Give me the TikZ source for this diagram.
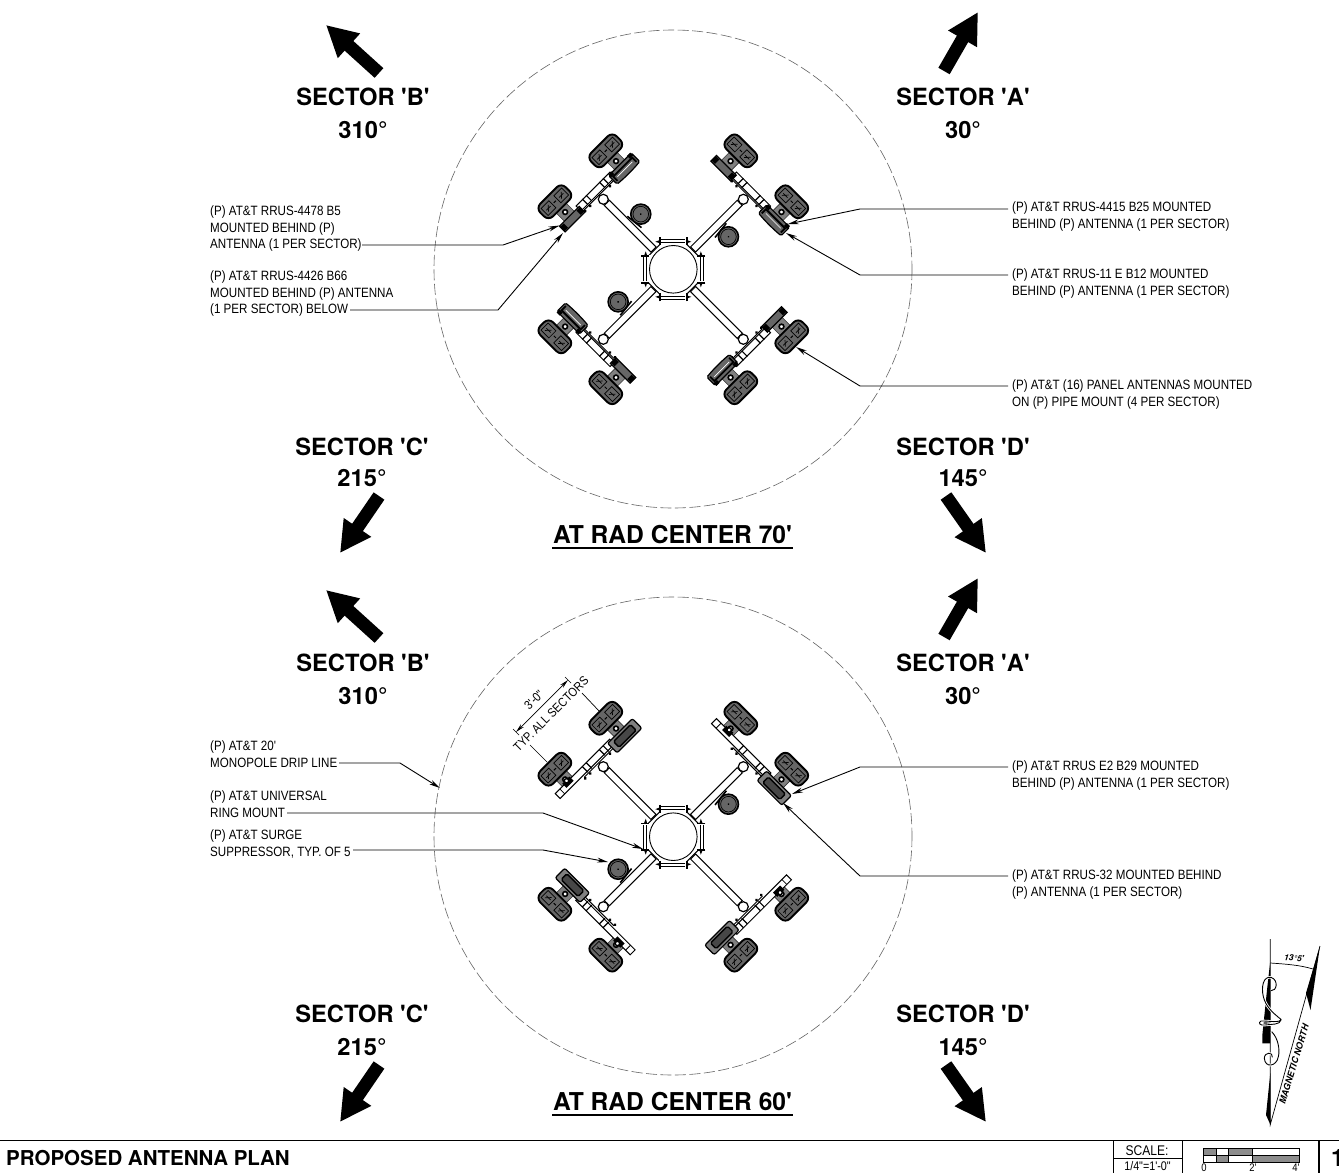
\documentclass[tikz,border=0pt]{standalone}
\usepackage{fontspec}
\newfontfamily\helv{TeX Gyre Heros}
\setmainfont{TeX Gyre Heros}
\newfontfamily\cadfont[FakeStretch=0.86]{Liberation Sans}
\usetikzlibrary{arrows.meta,calc}
\definecolor{antgray}{HTML}{666666}
\definecolor{brk}{HTML}{808080}
\tikzset{
 sect/.style={font=\helv\fontsize{23.7}{26}\selectfont\bfseries,inner sep=0pt,align=center},
 plantitle/.style={font=\helv\fontsize{24.6}{26}\selectfont\bfseries,inner sep=0pt},
 note/.style={font=\cadfont\fontsize{13.5}{16.5}\selectfont,inner sep=0pt,align=left,anchor=north west},
 rottext/.style={font=\cadfont\fontsize{12.6}{15}\selectfont,inner sep=0pt,rotate=45},
 leader/.style={line width=0.9pt,-{Stealth[length=11pt,width=5pt]}},
 bigarrow/.style={line width=13pt,-{Triangle[length=31pt,width=31pt]}},
 drip/.style={line width=0.6pt,draw=black!60,dash pattern=on 11pt off 3.5pt},
 antbody/.style={fill=antgray,draw=black,line width=1.9pt,rounded corners=6.5pt},
 antin/.style={draw=black,line width=0.7pt},
 brack/.style={fill=brk,draw=black!80,line width=0.6pt},
 pipe/.style={fill=white,draw=black,line width=1pt},
}
\newcommand{\antennaunit}[1]{%
 \begin{scope}[shift={(0,#1)}]
  \filldraw[brack] (110,-7) rectangle (124,7);
  \draw[antbody] (122.5,-18) rectangle (140.5,18);
  \draw[antin] (126.5,-14.5) rectangle (136.5,-3.5);
  \draw[antin] (126.5,3.5) rectangle (136.5,14.5);
  \draw[antin] (129,-11.5) -- (134,-7) (129,7) -- (134,11.5);
  \draw[antin] (131.5,-12) -- (131.5,-6) (131.5,6) -- (131.5,12);
  \draw[black,line width=1pt] (131.5,-1.5) -- (131.5,1.5);
  \filldraw[fill=white,draw=black,line width=1.6pt] (117,0) circle (2.4);
 \end{scope}}
\newcommand{\armcommon}{%
 \filldraw[pipe] (28,-3.6) rectangle (94,3.6);
}
\newcommand{\armjoint}{%
 \filldraw[pipe,line width=1.2pt] (99,0) circle (5);
 \draw[line width=1pt] (105,-21) -- (105,21);
 \foreach \b in {-21,-14,14,21}{\fill (103.5,\b) circle (1.6);}
 \foreach \b in {-12,12}{\draw[line width=1.2pt] (106,\b-2.7) -- (114,\b-2.7) (106,\b+2.7) -- (114,\b+2.7);}
}
\newcommand{\armA}[1]{%
 \begin{scope}[rotate=#1]
  \armcommon
  \filldraw[pipe] (106.5,-24) rectangle (113.5,24);
  \armjoint
  \antennaunit{36}\antennaunit{-36}
  \filldraw[fill=antgray,draw=black,line width=1.2pt,rounded corners=1.5pt] (100,20.5) .. controls (99,30) and (99,43) .. (100,52.5) -- (112,52.5) -- (112,20.5) -- cycle;
  \draw[black,line width=1.8pt] (102,23) -- (108,23) -- (108,50) -- (102,50);
  \draw[white,line width=.7pt] (105,26) -- (105,47);
  \fill (109,21) rectangle (113,25.5); \fill (109,47.5) rectangle (113,52);
  \filldraw[fill=antgray,draw=black,line width=1.2pt] (103,-50) rectangle (111,-22);
  \fill (104,-50) rectangle (110,-45); \fill (104,-27) rectangle (110,-22);
 \end{scope}}
\newcommand{\armB}[1]{%
 \begin{scope}[rotate=#1]
  \armcommon
  \antennaunit{36}\antennaunit{-36}
  \filldraw[pipe] (107,-53) rectangle (114,24);
  \draw[line width=.8pt] (107,-46.5) -- (114,-46.5);
  \fill (110,-41) rectangle (116,-31);
  \filldraw[fill=white,draw=black,line width=1.4pt] (115,-36) circle (2.2);
  \armjoint
  \filldraw[fill=brk,draw=black,line width=1.2pt,rounded corners=2pt] (99,19.5) rectangle (112.5,54.5);
  \filldraw[fill=antgray!70!black,draw=black,line width=1.4pt,rounded corners=1.5pt] (101.5,25) rectangle (109.5,49);
 \end{scope}}
\newcommand{\suppressor}[1]{%
 \begin{scope}[rotate=#1]
  \draw[line width=1.6pt] (52,7) -- (70,5);
  \filldraw[fill=antgray,draw=black,line width=1.6pt] (62,16) circle (10);
  \draw[black,line width=.7pt] (62,16) circle (7.8);
  \fill (62,16) circle (1);
 \end{scope}}
\newcommand{\hub}{%
 \foreach \r in {0,90,180,270}{
  \begin{scope}[rotate=\r]
   \filldraw[fill=white,draw=none] (-14,-30) rectangle (14,-22);
   \draw[line width=1.2pt] (-12,-30) -- (12,-30);
   \draw[line width=.8pt] (-12,-27) -- (12,-27);
   \draw[line width=1.8pt] (-13.3,-32) -- (-13.3,-24) (13.3,-32) -- (13.3,-24);
   \fill (-13,-29.5) -- (-18,-27.5) -- (-13,-26) -- cycle;
   \fill (13,-29.5) -- (18,-27.5) -- (13,-26) -- cycle;
   \draw[line width=1.1pt] (-13.3,-25) -- (-25,-13.3);
  \end{scope}}
 \filldraw[fill=white,draw=black,line width=.9pt] (0,0) circle (23.8);
}
\begin{document}
\begin{tikzpicture}[x=1pt,y=-1pt]
\useasboundingbox (0,0) rectangle (1339,1173);
\fill[white] (0,0) rectangle (1339,1173);
% ---------- upper plan
\draw[drip] (673,269) circle (239);
\begin{scope}[shift={(673.3,269.3)}]
 \armA{135}\armA{45}\armA{225}\armA{315}
 \suppressor{135}\suppressor{45}\suppressor{225}
 \hub
\end{scope}
% ---------- lower plan
\draw[drip] (673,836) circle (239);
\begin{scope}[shift={(673.3,836.7)}]
 \armB{135}\armB{45}\armB{225}\armB{315}
 \suppressor{45}\suppressor{225}
 \hub
\end{scope}
% ---------- sector labels
\node[sect] (sb1) at (363,113.5) {SECTOR 'B'\\[7.5pt]310°};
\node[sect] (sa1) at (963,113.5) {SECTOR 'A'\\[7.5pt]30°};
\node[sect] (sc1) at (362,462.5) {SECTOR 'C'\\[5.5pt]215°};
\node[sect] (sd1) at (963,462.5) {SECTOR 'D'\\[5.5pt]145°};
\node[sect] (sb2) at (363,679.5) {SECTOR 'B'\\[7.5pt]310°};
\node[sect] (sa2) at (963,679.5) {SECTOR 'A'\\[7.5pt]30°};
\node[sect] (sc2) at (362,1030.5) {SECTOR 'C'\\[7.5pt]215°};
\node[sect] (sd2) at (963,1030.5) {SECTOR 'D'\\[7.5pt]145°};
% ---------- sector arrows
\coordinate (ab1t) at (379,73); \coordinate (ab1h) at (326,25);
\coordinate (aa1t) at (944,71); \coordinate (aa1h) at (978,12);
\coordinate (ac1t) at (379,496); \coordinate (ac1h) at (340,553);
\coordinate (ad1t) at (946,496); \coordinate (ad1h) at (986,553);
\coordinate (ab2t) at (379,638); \coordinate (ab2h) at (326,590);
\coordinate (aa2t) at (944,637); \coordinate (aa2h) at (978,578);
\coordinate (ac2t) at (379,1065); \coordinate (ac2h) at (340,1122);
\coordinate (ad2t) at (946,1065); \coordinate (ad2h) at (986,1122);
\foreach \n in {b1,a1,c1,d1,b2,a2,c2,d2}{\draw[bigarrow] (a\n t) -- (a\n h);}
% ---------- plan titles
\node[plantitle] (t1) at (672.5,535) {AT RAD CENTER 70'};
\node[plantitle] (t2) at (672.5,1102) {AT RAD CENTER 60'};
\draw[line width=1.2pt] (552,548) -- (793,548) (552,1115) -- (793,1115);
% ---------- notes
\node[note] (n1) at (210,206) {(P) AT\&T RRUS-4478 B5\\MOUNTED BEHIND (P)\\ANTENNA (1 PER SECTOR)};
\node[note] (n2) at (210,271) {(P) AT\&T RRUS-4426 B66\\MOUNTED BEHIND (P) ANTENNA\\(1 PER SECTOR) BELOW};
\node[note] (n3) at (1012,202) {(P) AT\&T RRUS-4415 B25 MOUNTED\\BEHIND (P) ANTENNA (1 PER SECTOR)};
\node[note] (n4) at (1012,269) {(P) AT\&T RRUS-11 E B12 MOUNTED\\BEHIND (P) ANTENNA (1 PER SECTOR)};
\node[note] (n5) at (1012,380) {(P) AT\&T (16) PANEL ANTENNAS MOUNTED\\ON (P) PIPE MOUNT (4 PER SECTOR)};
\node[note] (n6) at (210,741) {(P) AT\&T 20'\\MONOPOLE DRIP LINE};
\node[note] (n7) at (210,791) {(P) AT\&T UNIVERSAL\\RING MOUNT};
\node[note] (n8) at (210,830) {(P) AT\&T SURGE\\SUPPRESSOR, TYP. OF 5};
\node[note] (n9) at (1012,761) {(P) AT\&T RRUS E2 B29 MOUNTED\\BEHIND (P) ANTENNA (1 PER SECTOR)};
\node[note] (n10) at (1012,870) {(P) AT\&T RRUS-32 MOUNTED BEHIND\\(P) ANTENNA (1 PER SECTOR)};
% ---------- leaders
\coordinate (s1) at (362,245); \coordinate (b1) at (503,245); \coordinate (e1) at (559.5,225.5);
\coordinate (s2) at (350,310); \coordinate (b2) at (498,310); \coordinate (e2) at (563,233);
\coordinate (s3) at (1008,209); \coordinate (b3) at (860,209); \coordinate (e3) at (788,224);
\coordinate (s4) at (1008,275); \coordinate (b4) at (860,275); \coordinate (e4) at (786,233);
\coordinate (s5) at (1008,386); \coordinate (b5) at (860,386); \coordinate (e5) at (796,347);
\coordinate (s6) at (339,763); \coordinate (b6) at (400,763); \coordinate (e6) at (440,788);
\coordinate (s7) at (287,813); \coordinate (b7) at (543,813); \coordinate (e7) at (643,849);
\coordinate (s8) at (353,850); \coordinate (b8) at (543,850); \coordinate (e8) at (608,862);
\coordinate (s9) at (1008,767); \coordinate (b9) at (860,767); \coordinate (e9) at (792,794);
\coordinate (s10) at (1008,876); \coordinate (b10) at (860,876); \coordinate (e10) at (783,803);
\foreach \k in {1,...,10}{\draw[leader] (s\k) -- (b\k) -- (e\k);}
% ---------- dimension
\coordinate (d1) at (516,732); \coordinate (d2) at (568,680);
\draw[line width=.7pt,{Stealth[length=9pt,width=4pt]}-{Stealth[length=9pt,width=4pt]}] (d1) -- (d2);
\draw[line width=.7pt] (513,729) -- (519,735) (565,677) -- (571,683);
\draw[line width=.7pt] (530,745) -- (547,762) (582,693) -- (600,712);
\node[rottext] (dt1) at (534,700) {3'-0"};
\node[rottext] (dt2) at (551,714) {TYP. ALL SECTORS};
% ---------- north arrow
\draw[line width=.7pt] (1270.3,939) -- (1270.3,1124.5) -- (1320,946);
\fill (1320,946) -- (1306,993) -- (1310.5,1010) -- cycle;
\fill (1270.3,1073) -- (1266,1115) -- (1270.3,1124.5) -- cycle;
\begin{scope}[shift={(1245,960)},scale=1/3]
 \fill (75,10) -- (75,250) -- (52,250) -- (52,225) -- (66,90) -- cycle;
 \foreach \c/\w in {white/2.6,black/.9}{
  \draw[\c,line width=\w pt] (78,92) .. controls (95,95) and (102,60) .. (78,52) .. controls (55,48) and (48,80) .. (55,110) .. controls (62,140) and (85,160) .. (108,178) .. controls (105,190) and (70,182) .. (48,183) .. controls (38,188) and (45,198) .. (60,195) .. controls (80,192) and (105,195) .. (108,180);
  \draw[\c,line width=\w pt] (80,215) .. controls (100,235) and (105,270) .. (100,290) .. controls (95,320) and (60,325) .. (58,295) .. controls (58,275) and (85,275) .. (82,292);
 }
\end{scope}
\draw[line width=.7pt] (1270.3,963) .. controls (1285,964) and (1300,965) .. (1313,969);
\node[font=\helv\itshape\fontsize{8.5}{9}\selectfont\bfseries,inner sep=0pt,rotate=-5] (nt1) at (1294,958) {13°5'};
\node[font=\helv\itshape\fontsize{9}{10}\selectfont\bfseries,inner sep=0pt,rotate=73] (nt2) at (1294,1064) {MAGNETIC NORTH};
% ---------- title strip
\draw[line width=.9pt] (0,1140) -- (1339,1140);
\node[font=\helv\fontsize{20.5}{22}\selectfont\bfseries,inner sep=0pt,anchor=west] (pt) at (6,1158) {PROPOSED ANTENNA PLAN};
\draw[line width=1pt] (1113,1140) -- (1113,1173) (1182,1140) -- (1182,1173) (1113,1158) -- (1182,1158);
\draw[line width=2pt] (1319,1140) -- (1319,1173);
\node[font=\cadfont\fontsize{14}{15}\selectfont,inner sep=0pt] (sc) at (1147,1150.5) {SCALE:};
\node[font=\cadfont\fontsize{12.5}{13}\selectfont,inner sep=0pt] (sv) at (1147.5,1166.5) {1/4"=1'-0"};
\fill[black!45] (1203,1148) rectangle (1216,1155) (1216,1155) rectangle (1228,1162) (1228,1148) rectangle (1252,1155) (1252,1155) rectangle (1299,1162);
\draw[line width=.8pt] (1203,1148) rectangle (1299,1162) (1203,1155) -- (1299,1155) (1216,1148) -- (1216,1162) (1228,1148) -- (1228,1162) (1252,1148) -- (1252,1162);
\node[font=\cadfont\fontsize{11}{12}\selectfont,inner sep=0pt] (s0) at (1204,1167.5) {0};
\node[font=\cadfont\fontsize{11}{12}\selectfont,inner sep=0pt] (s2') at (1253,1167.5) {2'};
\node[font=\cadfont\fontsize{11}{12}\selectfont,inner sep=0pt] (s4') at (1296,1167.5) {4'};
\node[font=\helv\fontsize{24}{26}\selectfont\bfseries,inner sep=0pt,anchor=west] (sn) at (1331,1158) {1};
\end{tikzpicture}
\end{document}
